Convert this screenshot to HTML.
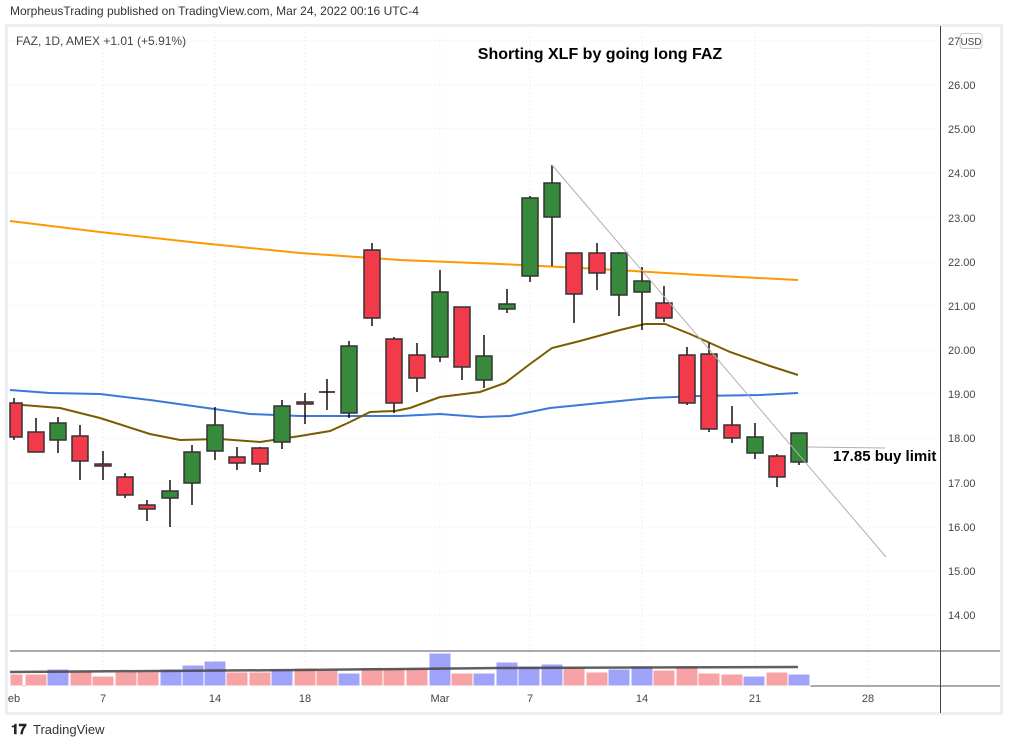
<!DOCTYPE html>
<html><head><meta charset="utf-8"><style>
body{margin:0;background:#fff;width:1010px;height:746px;overflow:hidden;font-family:"Liberation Sans",sans-serif}
</style></head><body>
<svg width="1010" height="746" xmlns="http://www.w3.org/2000/svg" font-family="Liberation Sans, sans-serif">
<rect width="1010" height="746" fill="#fff"/>
<text x="10" y="15" font-size="12" fill="#333">MorpheusTrading published on TradingView.com, Mar 24, 2022 00:16 UTC-4</text>
<rect x="6.5" y="25.5" width="995" height="688" fill="none" stroke="#eceef2" stroke-width="3"/>
<g stroke="#e3e5ea" stroke-dasharray="1,3" stroke-width="1">
<line x1="10" x2="940" y1="41" y2="41"/><line x1="10" x2="940" y1="85" y2="85"/><line x1="10" x2="940" y1="129" y2="129"/><line x1="10" x2="940" y1="173" y2="173"/><line x1="10" x2="940" y1="218" y2="218"/><line x1="10" x2="940" y1="262" y2="262"/><line x1="10" x2="940" y1="306" y2="306"/><line x1="10" x2="940" y1="350" y2="350"/><line x1="10" x2="940" y1="394" y2="394"/><line x1="10" x2="940" y1="438" y2="438"/><line x1="10" x2="940" y1="483" y2="483"/><line x1="10" x2="940" y1="527" y2="527"/><line x1="10" x2="940" y1="571" y2="571"/><line x1="10" x2="940" y1="615" y2="615"/>
<line x1="103" x2="103" y1="28" y2="686"/><line x1="215" x2="215" y1="28" y2="686"/><line x1="305" x2="305" y1="28" y2="686"/><line x1="440" x2="440" y1="28" y2="686"/><line x1="530" x2="530" y1="28" y2="686"/><line x1="642" x2="642" y1="28" y2="686"/><line x1="755" x2="755" y1="28" y2="686"/><line x1="868" x2="868" y1="28" y2="686"/>
</g>
<text x="16" y="45" font-size="12" fill="#444">FAZ, 1D, AMEX  +1.01 (+5.91%)</text>
<text x="600" y="59" font-size="16" font-weight="bold" text-anchor="middle" fill="#000">Shorting XLF by going long FAZ</text>
<g>
<line x1="10" x2="1000" y1="651" y2="651" stroke="#555"/>
<line x1="10" x2="1000" y1="686" y2="686" stroke="#555"/>
<g fill="#f7a3a6" stroke="#fff" stroke-width="1">
<rect x="10" y="674" width="13" height="12"/><rect x="25" y="674" width="22" height="12"/><rect x="70" y="671" width="22" height="15"/><rect x="92" y="676" width="22" height="10"/><rect x="115" y="672" width="22" height="14"/><rect x="137" y="672" width="22" height="14"/><rect x="226" y="672" width="22" height="14"/><rect x="249" y="672" width="22" height="14"/><rect x="294" y="668" width="22" height="18"/><rect x="316" y="670" width="22" height="16"/><rect x="361" y="668" width="22" height="18"/><rect x="383" y="668" width="22" height="18"/><rect x="406" y="668" width="22" height="18"/><rect x="451" y="673" width="22" height="13"/><rect x="563" y="667" width="22" height="19"/><rect x="586" y="672" width="22" height="14"/><rect x="653" y="670" width="22" height="16"/><rect x="676" y="666" width="22" height="20"/><rect x="698" y="673" width="22" height="13"/><rect x="721" y="674" width="22" height="12"/><rect x="766" y="672" width="22" height="14"/>
</g>
<g fill="#a0a3fa" stroke="#fff" stroke-width="1">
<rect x="47" y="669" width="22" height="17"/><rect x="160" y="669" width="22" height="17"/><rect x="182" y="665" width="22" height="21"/><rect x="204" y="661" width="22" height="25"/><rect x="271" y="669" width="22" height="17"/><rect x="338" y="673" width="22" height="13"/><rect x="429" y="653" width="22" height="33"/><rect x="473" y="673" width="22" height="13"/><rect x="496" y="662" width="22" height="24"/><rect x="518" y="666" width="22" height="20"/><rect x="541" y="664" width="22" height="22"/><rect x="608" y="669" width="22" height="17"/><rect x="631" y="666" width="22" height="20"/><rect x="743" y="676" width="22" height="10"/><rect x="788" y="674" width="22" height="12"/>
</g>
<polyline points="10,672 300,670 500,668 798,667" fill="none" stroke="#444" stroke-width="2.5" opacity="0.85"/>
</g>
<polyline points="10,221 100,232 200,243 300,253 400,260 500,264 600,269 700,275 798,280" fill="none" stroke="#ff9800" stroke-width="2"/>
<polyline points="10,390 50,393 100,394 150,400 200,407 250,414 300,416 350,416 400,416 440,414 480,417 510,416 550,408 600,403 650,398 700,396 760,395 798,393" fill="none" stroke="#3b78d8" stroke-width="2"/>
<polyline points="10,404 35,406 60,408 100,418 150,434 180,440 220,439 260,442 300,436 330,431 350,422 370,412 395,411 410,408 440,397 480,392 505,383 530,364 552,348 580,341 620,330 645,324 665,324 690,334 730,352 770,366 798,375" fill="none" stroke="#7a5c00" stroke-width="2"/>
<g stroke="#1a0a0a" stroke-width="1.5">
<line x1="14" x2="14" y1="398" y2="440"/><line x1="36" x2="36" y1="418" y2="452"/><line x1="58" x2="58" y1="417" y2="453"/><line x1="80" x2="80" y1="425" y2="480"/><line x1="103" x2="103" y1="451" y2="480"/><line x1="125" x2="125" y1="473" y2="498"/><line x1="147" x2="147" y1="500" y2="521"/><line x1="170" x2="170" y1="480" y2="527"/><line x1="192" x2="192" y1="445" y2="505"/><line x1="215" x2="215" y1="407" y2="460"/><line x1="237" x2="237" y1="447" y2="470"/><line x1="260" x2="260" y1="447" y2="472"/><line x1="282" x2="282" y1="400" y2="449"/><line x1="305" x2="305" y1="393" y2="424"/><line x1="327" x2="327" y1="379" y2="410"/><line x1="349" x2="349" y1="341" y2="418"/><line x1="372" x2="372" y1="243" y2="326"/><line x1="394" x2="394" y1="337" y2="413"/><line x1="417" x2="417" y1="343" y2="392"/><line x1="440" x2="440" y1="270" y2="362"/><line x1="462" x2="462" y1="307" y2="380"/><line x1="484" x2="484" y1="335" y2="388"/><line x1="507" x2="507" y1="289" y2="313"/><line x1="530" x2="530" y1="196" y2="282"/><line x1="552" x2="552" y1="165" y2="266"/><line x1="574" x2="574" y1="253" y2="323"/><line x1="597" x2="597" y1="243" y2="290"/><line x1="619" x2="619" y1="252" y2="316"/><line x1="642" x2="642" y1="267" y2="330"/><line x1="664" x2="664" y1="286" y2="322"/><line x1="687" x2="687" y1="347" y2="405"/><line x1="709" x2="709" y1="343" y2="432"/><line x1="732" x2="732" y1="406" y2="443"/><line x1="755" x2="755" y1="423" y2="459"/><line x1="777" x2="777" y1="454" y2="487"/><line x1="799" x2="799" y1="433" y2="465"/>
<line x1="319" x2="335" y1="392" y2="392"/>
</g>
<g stroke="#333" stroke-width="1.5" fill="#f23a4b">
<rect x="10" y="403" width="12" height="34"/><rect x="28" y="432" width="16" height="20"/><rect x="72" y="436" width="16" height="25"/><rect x="95" y="464" width="16" height="2"/><rect x="117" y="477" width="16" height="18"/><rect x="139" y="505" width="16" height="4"/><rect x="229" y="457" width="16" height="6"/><rect x="252" y="448" width="16" height="16"/><rect x="297" y="402" width="16" height="2"/><rect x="364" y="250" width="16" height="68"/><rect x="386" y="339" width="16" height="64"/><rect x="409" y="355" width="16" height="23"/><rect x="454" y="307" width="16" height="60"/><rect x="566" y="253" width="16" height="41"/><rect x="589" y="253" width="16" height="20"/><rect x="656" y="303" width="16" height="15"/><rect x="679" y="355" width="16" height="48"/><rect x="701" y="354" width="16" height="75"/><rect x="724" y="425" width="16" height="13"/><rect x="769" y="456" width="16" height="21"/>
</g>
<g stroke="#333" stroke-width="1.5" fill="#37893b">
<rect x="50" y="423" width="16" height="17"/><rect x="162" y="491" width="16" height="7"/><rect x="184" y="452" width="16" height="31"/><rect x="207" y="425" width="16" height="26"/><rect x="274" y="406" width="16" height="36"/><rect x="341" y="346" width="16" height="67"/><rect x="432" y="292" width="16" height="65"/><rect x="476" y="356" width="16" height="24"/><rect x="499" y="304" width="16" height="5"/><rect x="522" y="198" width="16" height="78"/><rect x="544" y="183" width="16" height="34"/><rect x="611" y="253" width="16" height="42"/><rect x="634" y="281" width="16" height="11"/><rect x="747" y="437" width="16" height="16"/><rect x="791" y="433" width="16" height="29"/>
</g>
<line x1="552" y1="165" x2="886" y2="557" stroke="#b0b0b0" stroke-width="1"/>
<line x1="808" y1="447" x2="885" y2="448" stroke="#b0b0b0" stroke-width="1"/>
<text x="833" y="461" font-size="15" font-weight="bold" fill="#000">17.85 buy limit</text>
<line x1="940.5" y1="26" x2="940.5" y2="713" stroke="#444"/>
<g font-size="11" fill="#444">
<text x="948" y="45">27</text>
<text x="948" y="89">26.00</text><text x="948" y="133">25.00</text><text x="948" y="177">24.00</text><text x="948" y="222">23.00</text><text x="948" y="266">22.00</text><text x="948" y="310">21.00</text><text x="948" y="354">20.00</text><text x="948" y="398">19.00</text><text x="948" y="442">18.00</text><text x="948" y="487">17.00</text><text x="948" y="531">16.00</text><text x="948" y="575">15.00</text><text x="948" y="619">14.00</text>
</g>
<rect x="960" y="33.5" width="22" height="15" rx="3" fill="#fff" stroke="#ccc"/>
<text x="971" y="45" font-size="10" text-anchor="middle" fill="#444">USD</text>
<g font-size="11" fill="#444" text-anchor="middle">
<text x="14" y="702">eb</text><text x="103" y="702">7</text><text x="215" y="702">14</text><text x="305" y="702">18</text><text x="440" y="702">Mar</text><text x="530" y="702">7</text><text x="642" y="702">14</text><text x="755" y="702">21</text><text x="868" y="702">28</text>
</g>
<text x="11" y="734" font-size="14" font-weight="bold" fill="#222">𝟏𝟕</text>
<text x="33" y="734" font-size="13" fill="#333">TradingView</text>
</svg>
</body></html>
